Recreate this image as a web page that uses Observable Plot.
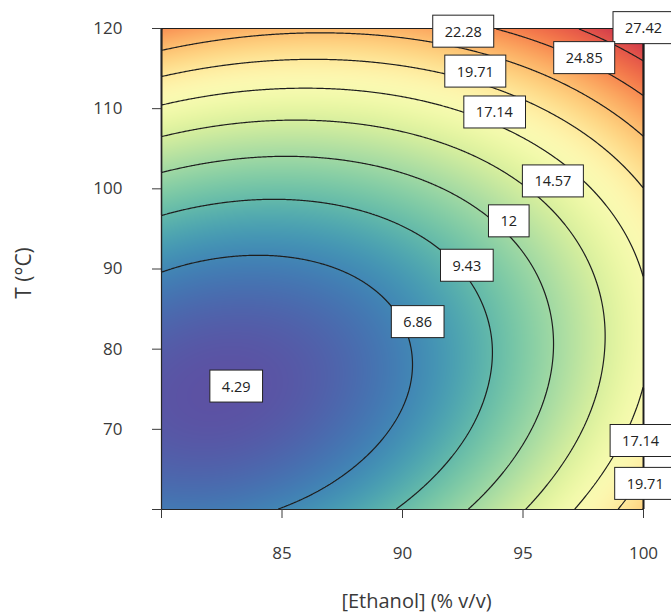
<!DOCTYPE html>
<html><head><meta charset="utf-8">
<script src="https://cdn.jsdelivr.net/npm/d3@7"></script>
<script src="https://cdn.jsdelivr.net/npm/@observablehq/plot@0.6"></script>
<style>
html,body{margin:0;padding:0;background:#fff;}
#chart{width:671px;height:614px;}
</style></head><body><div id="chart"></div>
<script>
// Grid of response values (rows: temperature, columns: ethanol)
const ethanol = [80, 82.5, 85, 87.5, 90, 92.5, 95, 97.5, 100];
const temperature = [60, 65, 70, 75, 80, 85, 90, 95, 100, 105, 110, 115, 120];
const responseRows = [
  [6.30, 6.35, 6.93, 8.02, 9.64, 11.79, 14.45, 17.64, 21.35],
  [5.24, 5.19, 5.67, 6.67, 8.19, 10.23, 12.80, 15.89, 19.50],
  [4.65, 4.50, 4.88, 5.78, 7.20, 9.14, 11.61, 14.60, 18.11],
  [4.52, 4.31, 4.56, 5.36, 6.68, 8.53, 10.90, 13.79, 17.20],
  [4.87, 4.53, 4.71, 5.41, 6.64, 8.38, 10.65, 13.45, 16.76],
  [5.69, 5.25, 5.33, 5.93, 7.06, 8.71, 10.88, 13.57, 16.79],
  [6.98, 6.44, 6.42, 6.92, 7.95, 9.50, 11.57, 14.17, 17.29],
  [8.74, 8.10, 7.98, 8.39, 9.32, 10.77, 12.74, 15.24, 18.25],
  [10.96, 10.23, 10.01, 10.32, 11.15, 12.50, 14.38, 16.77, 19.69],
  [13.66, 12.83, 12.51, 12.72, 13.45, 14.70, 16.48, 18.78, 21.60],
  [16.83, 15.89, 15.48, 15.59, 16.22, 17.38, 19.06, 21.26, 23.98],
  [20.47, 19.43, 18.92, 18.93, 19.47, 20.52, 22.10, 24.20, 26.83],
  [24.58, 23.44, 22.83, 22.75, 23.18, 24.14, 25.62, 27.62, 30.14]
];
const contourLevels = [4.29, 6.86, 9.43, 12, 14.57, 17.14, 19.71, 22.28, 24.85, 27.42];

// Contour labels (text and anchor in data units)
const labelText = ["27.42", "24.85", "22.28", "19.71", "17.14", "14.57", "12", "9.43", "6.86", "4.29", "17.14", "19.71"];
const labelEthanol = [100.0, 97.54, 92.52, 93.02, 93.81, 96.24, 94.41, 92.67, 90.63, 83.10, 99.88, 100.07];
const labelTemperature = [120.0, 116.26, 119.56, 114.58, 109.48, 100.88, 95.90, 90.36, 83.33, 75.29, 68.5, 63.15];

// Axes
const xTicks = [80, 85, 90, 95, 100];
const xTickLabels = ["", "85", "90", "95", "100"];
const yTicks = [60, 70, 80, 90, 100, 110, 120];
const yTickLabels = ["", "70", "80", "90", "100", "110", "120"];
const xTitle = "[Ethanol] (% v/v)";
const yTitle = "T (°C)";

const grid = temperature.flatMap((t, i) => ethanol.map((e, j) => ({ethanol: e, temperature: t, value: responseRows[i][j]})));
const labels = labelText.map((s, i) => ({text: s, ethanol: labelEthanol[i], temperature: labelTemperature[i]}));

// Smooth (Catmull-Rom bicubic) interpolation of the regular sample grid, used by raster and contour
function bicubic(index, width, height, X, Y, V) {
  const idx = Array.from(index);
  const xs = Array.from(new Set(idx.map((i) => X[i]))).sort((a, b) => a - b);
  const ys = Array.from(new Set(idx.map((i) => Y[i]))).sort((a, b) => a - b);
  const nx = xs.length, ny = ys.length;
  const M = Array.from({length: ny}, () => new Float64Array(nx));
  for (const i of idx) M[ys.indexOf(Y[i])][xs.indexOf(X[i])] = V[i];
  const col = (r, c) => {
    if (c < 0) return 3 * M[r][0] - 3 * M[r][1] + M[r][2];
    if (c >= nx) return 3 * M[r][nx - 1] - 3 * M[r][nx - 2] + M[r][nx - 3];
    return M[r][c];
  };
  const get = (r, c) => {
    if (r < 0) return 3 * col(0, c) - 3 * col(1, c) + col(2, c);
    if (r >= ny) return 3 * col(ny - 1, c) - 3 * col(ny - 2, c) + col(ny - 3, c);
    return col(r, c);
  };
  const cr = (p0, p1, p2, p3, t) =>
    0.5 * (2 * p1 + (p2 - p0) * t + (2 * p0 - 5 * p1 + 4 * p2 - p3) * t * t + (3 * p1 - p0 - 3 * p2 + p3) * t * t * t);
  const dx = xs[1] - xs[0], dy = ys[1] - ys[0];
  const out = new Float64Array(width * height);
  for (let py = 0; py < height; ++py) {
    let gy = (py + 0.5 - ys[0]) / dy;
    gy = Math.max(0, Math.min(ny - 1, gy));
    const r = Math.min(Math.floor(gy), ny - 2), ty = gy - r;
    for (let px = 0; px < width; ++px) {
      let gx = (px + 0.5 - xs[0]) / dx;
      gx = Math.max(0, Math.min(nx - 1, gx));
      const c = Math.min(Math.floor(gx), nx - 2), tx = gx - c;
      const rowv = [];
      for (let k = -1; k <= 2; ++k) rowv.push(cr(get(r + k, c - 1), get(r + k, c), get(r + k, c + 1), get(r + k, c + 2), tx));
      out[py * width + px] = cr(rowv[0], rowv[1], rowv[2], rowv[3], ty);
    }
  }
  return out;
}

const chart = Plot.plot({
  width: 671,
  height: 614,
  marginTop: 28,
  marginRight: 28,
  marginBottom: 105,
  marginLeft: 161,
  style: {fontFamily: "'Open Sans', 'Noto Sans', sans-serif", fontSize: "17px", color: "#3a3a3a", background: "white"},
  x: {domain: [80, 100]},
  y: {domain: [60, 120]},
  color: {type: "linear", scheme: "spectral", reverse: true, domain: [4.2, 31.5]},
  marks: [
    Plot.raster(grid, {x: "ethanol", y: "temperature", fill: "value", interpolate: bicubic, pixelSize: 1}),
    Plot.contour(grid, {x: "ethanol", y: "temperature", value: "value", interpolate: bicubic, thresholds: contourLevels, pixelSize: 1, fill: "none", stroke: "#1e1e1e", strokeWidth: 1.2}),
    Plot.frame({anchor: "left", stroke: "#262626"}),
    Plot.frame({anchor: "bottom", stroke: "#262626"}),
    Plot.axisX({ticks: xTicks, tickFormat: (d) => xTickLabels[xTicks.indexOf(d)], tickSize: 9, tickPadding: 28, label: null}),
    Plot.axisY({ticks: yTicks, tickFormat: (d) => yTickLabels[yTicks.indexOf(d)], tickSize: 9, tickPadding: 30, label: null}),
    Plot.text([xTitle], {text: (d) => d, frameAnchor: "bottom", dy: 92, dx: 14, fontSize: 20, lineAnchor: "middle", fill: "#3a3a3a"}),
    Plot.text([yTitle], {text: (d) => d, frameAnchor: "left", dx: -137, dy: 4, rotate: -90, textAnchor: "middle", lineAnchor: "middle", fontSize: 21, fill: "#3a3a3a"}),
    Plot.text(labels, {x: "ethanol", y: "temperature", text: "text", fontSize: 14.5, fill: "#222", ariaDescription: "contour-labels"})
  ]
});

document.getElementById("chart").append(chart);

// White boxes behind the contour labels
let g = chart.querySelector('g[aria-description="contour-labels"]');
if (!g) { const all = chart.querySelectorAll('g[aria-label="text"]'); g = all[all.length - 1]; }
if (g) {
  g.querySelectorAll("text").forEach((t) => {
    const b = t.getBBox();
    const r = document.createElementNS("http://www.w3.org/2000/svg", "rect");
    r.setAttribute("x", b.x - 12);
    r.setAttribute("y", b.y + b.height / 2 - 16);
    r.setAttribute("width", b.width + 24);
    r.setAttribute("height", 32);
    r.setAttribute("fill", "white");
    r.setAttribute("stroke", "#222");
    r.setAttribute("stroke-width", 1);
    const tr = t.getAttribute("transform");
    if (tr) r.setAttribute("transform", tr);
    t.parentNode.insertBefore(r, t);
  });
}
</script>
</body></html>
